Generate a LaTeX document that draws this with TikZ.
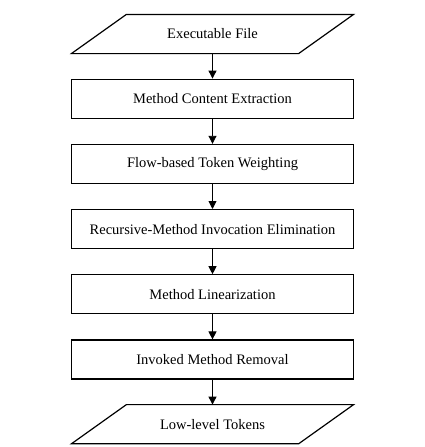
\documentclass[tikz,border=0pt]{standalone}
\usepackage{fontspec}
\setmainfont{Liberation Serif}
\usetikzlibrary{arrows.meta, positioning}
\definecolor{lnblack}{HTML}{000000}

% slanted frame round an input/output node
\newcommand{\ioframe}[1]{%
  \draw[lnblack] ([xshift=-27.5pt]#1.south west) -- ([xshift=27.5pt]#1.north west)
    -- ([xshift=27.5pt]#1.north east) -- ([xshift=-27.5pt]#1.south east) -- cycle;}

\begin{document}
\begin{tikzpicture}[
    x=1pt, y=1pt,
    node distance=25pt,
    line width=1.2pt,
    every node/.style={font=\fontsize{14.5}{17}\selectfont, text=lnblack},
    stepbox/.style={draw=lnblack, rectangle, minimum width=282pt, minimum height=39pt, inner sep=0pt},
    iobox/.style={rectangle, minimum width=226pt, minimum height=38pt, inner sep=0pt},
    flow/.style={draw=lnblack, line width=0.9pt, -{Triangle[length=8pt, width=8pt]}},
  ]

  % Canvas
  \useasboundingbox (0,0) rectangle (424,-447);

  %%% Input
  \node[iobox] (exe) at (212.5,-34) {Executable File};
  \ioframe{exe}

  %%% Processing steps
  \node[stepbox, below=of exe] (extract) {Method Content Extraction};
  \node[stepbox, below=of extract] (weight) {Flow-based Token Weighting};
  \node[stepbox, below=of weight] (recur) {Recursive-Method Invocation Elimination};
  \node[stepbox, below=of recur] (linear) {Method Linearization};
  \node[stepbox, below=of linear] (remove) {Invoked Method Removal};

  %%% Output
  \node[iobox, below=of remove] (tokens) {Low-level Tokens};
  \ioframe{tokens}

  % Connectors
  \foreach \a/\b in {exe/extract, extract/weight, weight/recur, recur/linear, linear/remove, remove/tokens}
    \draw[flow] (\a) -- (\b);

\end{tikzpicture}
\end{document}
